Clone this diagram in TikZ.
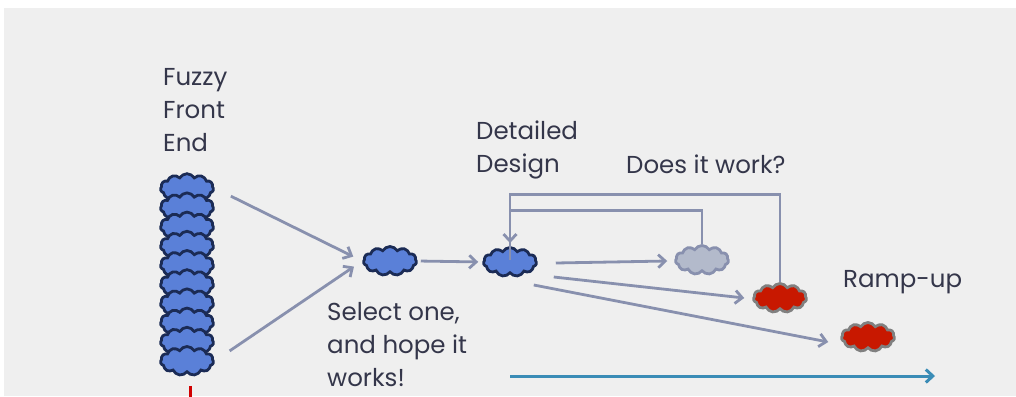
\documentclass[tikz,border=0pt]{standalone}
\usepackage{fontspec}
\setmainfont{Poppins}
\usetikzlibrary{shapes.symbols, arrows.meta, positioning}
\definecolor{bggray}{HTML}{EFEFEF}
\definecolor{puffblue}{HTML}{5A80D8}
\definecolor{puffnavy}{HTML}{1B2B55}
\definecolor{puffgrey}{HTML}{B3BACB}
\definecolor{puffred}{HTML}{C81800}
\definecolor{flowgray}{HTML}{8890AE}
\definecolor{timeblue}{HTML}{3A8CB6}
\definecolor{textgray}{HTML}{34364A}
\definecolor{markred}{HTML}{D00000}

\begin{document}
\begin{tikzpicture}
			[x=1pt, y=-1pt, >={Straight Barb[length=7pt,width=13pt]},
			blob/.style={cloud, cloud puffs=11, cloud puff arc=120, aspect=2,
				minimum width=53pt, minimum height=29pt, inner sep=0pt,
				line width=2.8pt, draw=puffnavy, fill=puffblue},
			greyblob/.style={blob, draw=flowgray, fill=puffgrey},
			redblob/.style={blob, draw=gray, fill=puffred},
			flow/.style={draw=flowgray, line width=2.8pt},
			lbl/.style={anchor=base west, inner sep=0pt, align=left, text=textgray,
				font=\fontsize{24.5}{33}\selectfont}]
			% background %
			\useasboundingbox (0,0) rectangle (1016,396);
			\fill[white] (0,0) rectangle (1016,396);
			\fill[bggray] (4,8) rectangle (1016,396);

			% nodes %
			\foreach \i in {1,...,10}
				\node[blob] (s\i) at (187,{169+19.2*\i}) {};
			\node[blob] (sel) at (390,261) {};
			\node[blob] (det) at (510,262) {};
			\node[greyblob] (grey) at (702,260) {};
			\node[redblob] (rA) at (780,298) {};
			\node[redblob] (rB) at (868,337) {};

			% labels (base = last line) %
			\node[lbl] (fuzzy) at (163,151) {Fuzzy\\Front\\End};
			\node[lbl] (select) at (327,386) {Select one,\\and hope it\\works!};
			\node[lbl] (detail) at (476,172) {Detailed\\Design};
			\node[lbl] (works) at (626,173) {Does it work?};
			\node[lbl] (ramp) at (843,287) {Ramp-up};

			% edges %
			\draw[flow, ->, shorten <=18pt, shorten >=10pt] (s1.east) -- (sel.west);
			\draw[flow, ->, shorten <=18pt, shorten >=10pt] (s10.east) -- (sel.west);
			\draw[flow, ->, shorten <=3pt, shorten >=4pt] (sel.east) -- (det.west);
			\draw[flow, ->] ([shift={(18,1)}]det.east) -- ([shift={(-7,1)}]grey.west);
			\draw[flow, ->] ([shift={(16,15)}]det.east) -- ([shift={(-8,0)}]rA.west);
			\draw[flow, ->] ([shift={(-4,23)}]det.east) -- ([shift={(-12,5)}]rB.west);
			\draw[flow, ->, shorten >=3pt] (grey.north) -- ++(0,-34) -| (det.north);
			\draw[flow] (rA.north) -- ++(0,-88) -| ([yshift=-14pt]det.north);

			% timeline %
			\coordinate (tstart) at (510,376);
			\coordinate (tend) at (935,376);
			\draw[draw=timeblue, line width=3pt, ->] (tstart) -- (tend);
			\draw[draw=markred, line width=3pt] ([shift={(3,12)}]s10.south) -- ++(0,30);
			\end{tikzpicture}
\end{document}
